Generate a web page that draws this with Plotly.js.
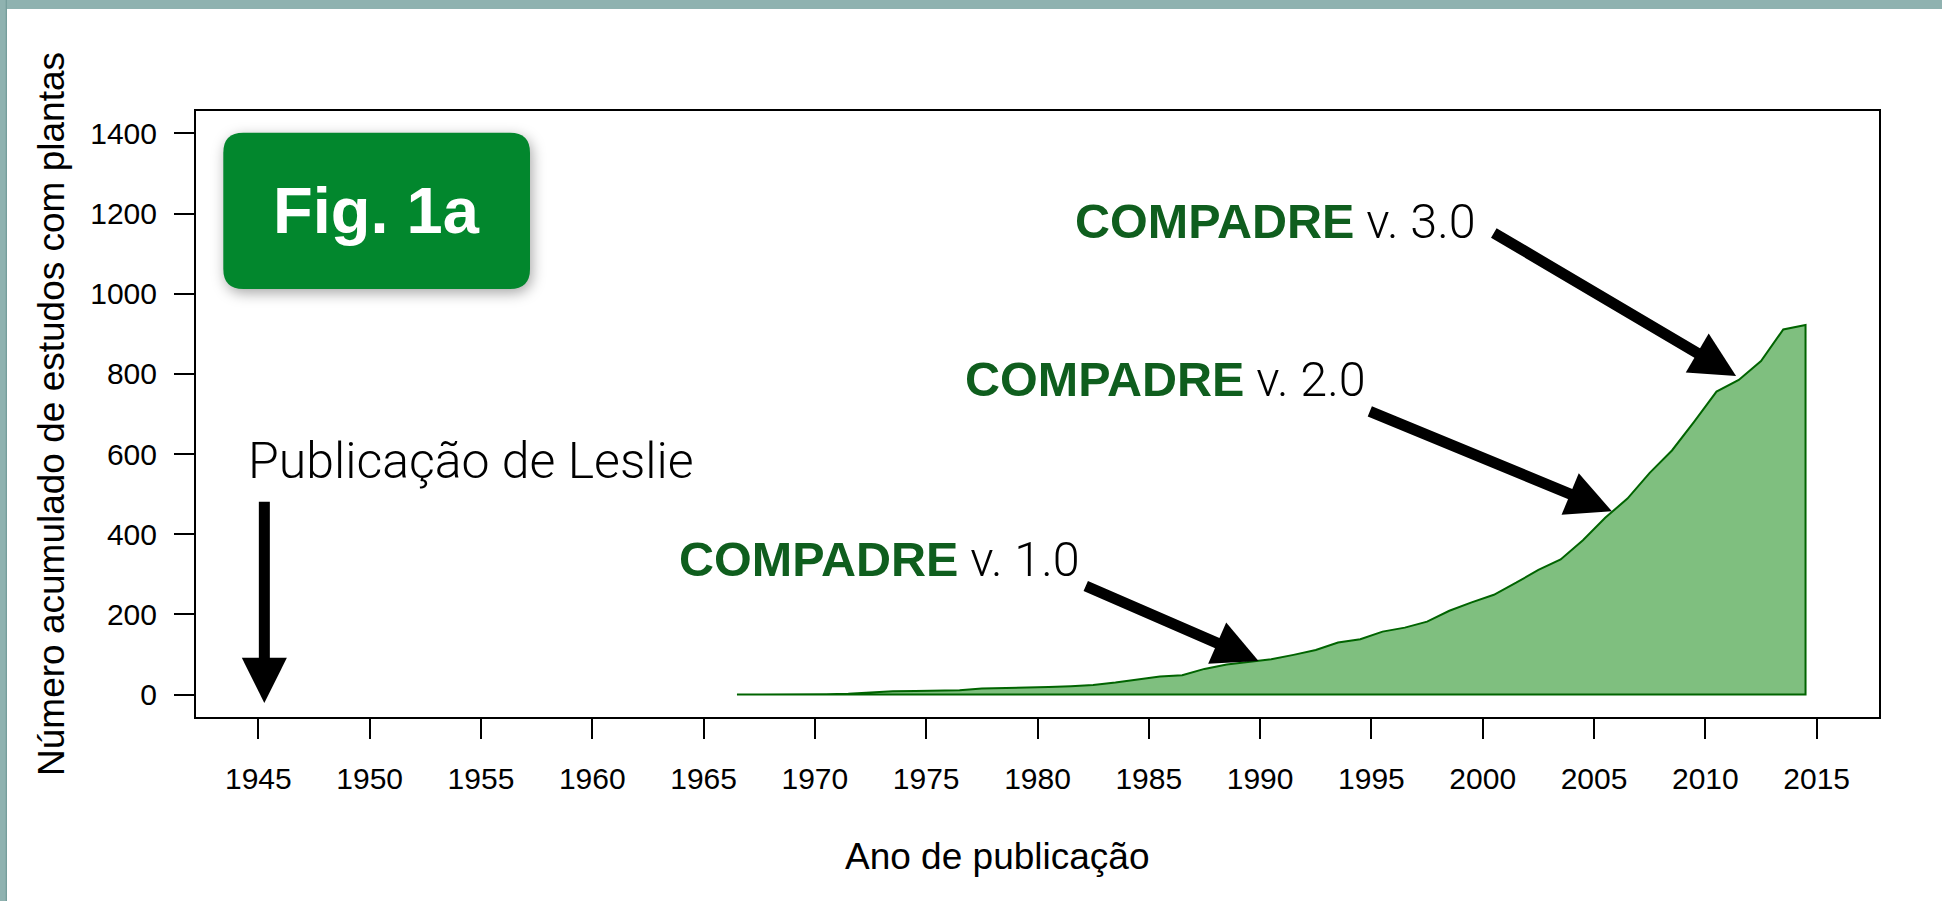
<!DOCTYPE html>
<html>
<head>
<meta charset="utf-8">
<script src="https://cdn.plot.ly/plotly-3.0.1.min.js"></script>
<style>
  html, body { margin: 0; padding: 0; background: #ffffff; }
  #wrap { position: relative; width: 1942px; height: 901px; overflow: hidden; }
  #chart { position: absolute; left: 0; top: 0; width: 1942px; height: 901px; }
  .bar-top { position: absolute; left: 0; top: 0; width: 1942px; height: 9px; background: #8fb2b0; z-index: 5; }
  .bar-left { position: absolute; left: 0; top: 0; width: 7px; height: 901px; background: linear-gradient(to right, #8fb2b0 0%, #8fb2b0 70%, #6f9896 100%); z-index: 5; }
</style>
</head>
<body>
<div id="wrap">
  <div id="chart"></div>
  <div class="bar-top"></div>
  <div class="bar-left"></div>
</div>
<script>
// ---- Data ----
const pubYears = [1966.5, 1967.5, 1968.5, 1969.5, 1970.5, 1971.5, 1972.5, 1973.5, 1974.5, 1975.5,
                  1976.5, 1977.5, 1978.5, 1979.5, 1980.5, 1981.5, 1982.5, 1983.5, 1984.5, 1985.5,
                  1986.5, 1987.5, 1988.5, 1989.5, 1990.5, 1991.5, 1992.5, 1993.5, 1994.5, 1995.5,
                  1996.5, 1997.5, 1998.5, 1999.5, 2000.5, 2001.5, 2002.5, 2003.5, 2004.5, 2005.5,
                  2006.5, 2007.5, 2008.5, 2009.5, 2010.5, 2011.5, 2012.5, 2013.5, 2014.5];
const cumStudies = [0, 0, 1, 1, 1, 2, 5, 8, 9, 10,
                    11, 15, 16, 17, 19, 21, 24, 30, 37, 45,
                    48, 64, 75, 82, 88, 99, 111, 130, 138, 157,
                    167, 182, 209, 230, 249, 279, 311, 337, 385, 441,
                    489, 553, 609, 681, 756, 785, 832, 911, 922];
const xTickVals = [1945, 1950, 1955, 1960, 1965, 1970, 1975, 1980, 1985, 1990, 1995, 2000, 2005, 2010, 2015];
const yTickVals = [0, 200, 400, 600, 800, 1000, 1200, 1400];

// Release markers
const releaseLabels = ["v. 1.0", "v. 2.0", "v. 3.0"];
const releaseTailYear = [1982.1, 1994.86, 2000.43];
const releaseTailVal = [272.6, 708, 1154];
const releaseHeadYear = [1989.93, 2005.8, 2011.38];
const releaseHeadVal = [83.6, 457.5, 795];
const releaseTextYear = [1982.0, 1994.83, 1999.78];
const releaseTextVal = [336, 785, 1181];

const leslieYear = 1945.27;
const leslieArrowTop = 485;
const leslieArrowTip = -21;

// ---- Polygon (area to the baseline, closed like R polygon) ----
const polyX = pubYears.concat([pubYears[pubYears.length - 1], pubYears[0]]);
const polyY = cumStudies.concat([0, 0]);

const trace = {
  x: polyX, y: polyY,
  type: 'scatter', mode: 'lines',
  fill: 'toself',
  fillcolor: 'rgba(0,128,0,0.5)',
  line: { color: '#006400', width: 2 },
  hoverinfo: 'skip',
  showlegend: false
};

const lightFont = 'Roboto, "Open Sans", sans-serif';
const sansFont = '"Liberation Sans", Arial, Helvetica, sans-serif';
const greenText = '#0f5e1e';

const annotations = [];

// Fig. 1a label
annotations.push({
  xref: 'paper', yref: 'paper', x: 0.10725, y: 0.8353,
  xanchor: 'center', yanchor: 'middle', showarrow: false,
  text: '<b>Fig. 1a</b>',
  font: { family: sansFont, size: 65, color: '#ffffff' }
});

// Leslie
annotations.push({
  xref: 'x', yref: 'y', x: 1944.44, y: 582,
  xanchor: 'left', yanchor: 'middle', showarrow: false,
  text: 'Publicação de Leslie',
  font: { family: lightFont, size: 50, color: '#000000', weight: 300 }
});
annotations.push({
  xref: 'x', yref: 'y', axref: 'x', ayref: 'y',
  x: leslieYear, y: leslieArrowTip, ax: leslieYear, ay: leslieArrowTop,
  text: '', showarrow: true, arrowhead: 2, arrowsize: 0.82, arrowwidth: 11, arrowcolor: '#000000',
  standoff: 0, startstandoff: 0
});

// COMPADRE releases
for (let i = 0; i < releaseLabels.length; i++) {
  annotations.push({
    xref: 'x', yref: 'y', x: releaseTextYear[i], y: releaseTextVal[i],
    xanchor: 'right', yanchor: 'middle', showarrow: false,
    text: '<span style="font-family:\'Liberation Sans\', Arial, sans-serif;font-weight:bold;color:' + greenText + '">COMPADRE</span> ' + releaseLabels[i],
    font: { family: lightFont, size: 48.5, color: '#000000', weight: 300 }
  });
  annotations.push({
    xref: 'x', yref: 'y', axref: 'x', ayref: 'y',
    x: releaseHeadYear[i], y: releaseHeadVal[i], ax: releaseTailYear[i], ay: releaseTailVal[i],
    text: '', showarrow: true, arrowhead: 2, arrowsize: 0.82, arrowwidth: 11, arrowcolor: '#000000',
    standoff: 0, startstandoff: 0
  });
}

// x-axis title (offset from plot centre in the reference)
annotations.push({
  xref: 'paper', yref: 'paper', x: 0.4757, y: -0.231,
  xanchor: 'center', yanchor: 'middle', showarrow: false,
  text: 'Ano de publicação',
  font: { family: sansFont, size: 37, color: '#000000' }
});

// Rounded rectangle for Fig. 1a badge (paper coordinates)
const bx0 = 0.01622, bx1 = 0.19846, by0 = 0.70627, by1 = 0.96419, rx = 0.011884, ry = 0.033;
const badgePath = 'M' + (bx0 + rx) + ',' + by1 +
  ' L' + (bx1 - rx) + ',' + by1 +
  ' Q' + bx1 + ',' + by1 + ' ' + bx1 + ',' + (by1 - ry) +
  ' L' + bx1 + ',' + (by0 + ry) +
  ' Q' + bx1 + ',' + by0 + ' ' + (bx1 - rx) + ',' + by0 +
  ' L' + (bx0 + rx) + ',' + by0 +
  ' Q' + bx0 + ',' + by0 + ' ' + bx0 + ',' + (by0 + ry) +
  ' L' + bx0 + ',' + (by1 - ry) +
  ' Q' + bx0 + ',' + by1 + ' ' + (bx0 + rx) + ',' + by1 + ' Z';

const layout = {
  width: 1942, height: 901,
  margin: { l: 196, r: 63, t: 111, b: 184, pad: 0 },
  paper_bgcolor: '#ffffff', plot_bgcolor: '#ffffff',
  showlegend: false,
  font: { family: sansFont, color: '#000000' },
  xaxis: {
    range: [1942.2, 2017.8],
    tickmode: 'array', tickvals: xTickVals, ticktext: xTickVals.map(String),
    ticks: 'outside', ticklen: 20, tickwidth: 2, tickcolor: '#000000',
    ticklabelstandoff: 14,
    showline: true, linecolor: '#000000', linewidth: 2, mirror: true,
    showgrid: false, zeroline: false,
    tickfont: { family: sansFont, size: 30, color: '#000000' }
  },
  yaxis: {
    range: [-56, 1456],
    tickmode: 'array', tickvals: yTickVals, ticktext: yTickVals.map(String),
    ticks: 'outside', ticklen: 20, tickwidth: 2, tickcolor: '#000000',
    ticklabelstandoff: 11,
    showline: true, linecolor: '#000000', linewidth: 2, mirror: true,
    showgrid: false, zeroline: false,
    tickfont: { family: sansFont, size: 30, color: '#000000' },
    title: { text: 'Número acumulado de estudos com plantas', font: { family: sansFont, size: 37, color: '#000000' }, standoff: 14 },
    automargin: false
  },
  shapes: [{
    type: 'path', xref: 'paper', yref: 'paper', path: badgePath,
    fillcolor: '#02872d', line: { width: 0 }, layer: 'above'
  }],
  annotations: annotations
};

Plotly.newPlot('chart', [trace], layout, { displayModeBar: false, staticPlot: true }).then(function () {
  const p = document.querySelector('#chart .layer-above .shapelayer path');
  if (p) { p.style.filter = 'drop-shadow(2px 4px 7px rgba(0,0,0,0.35))'; }
});
</script>
</body>
</html>
